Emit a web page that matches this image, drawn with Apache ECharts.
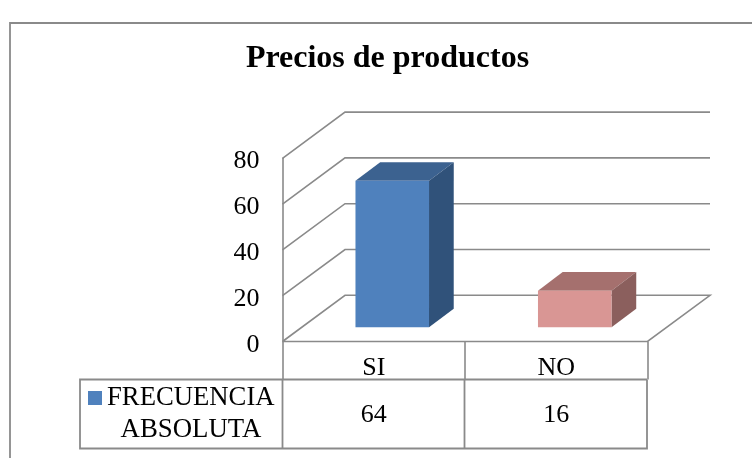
<!DOCTYPE html>
<html><head><meta charset="utf-8">
<style>html,body{margin:0;padding:0;background:#fff}#c{width:752px;height:458px}</style>
<script src="https://cdn.jsdelivr.net/npm/echarts@6/dist/echarts.min.js"></script>
</head><body><div id="c"></div>
<script>
var titleText = 'Precios de productos';
var categories = ['SI', 'NO'];
var values = [64, 16];
var seriesLines = ['FRECUENCIA', 'ABSOLUTA'];
var gridTicks = [0, 20, 40, 60, 80];
var FONT = '"Liberation Serif","Times New Roman",serif';
var LINE = '#8a8a8a', TXT = '#000';
var FRONT = ['#4F81BD', '#D99694'], TOP = ['#3C6290', '#A5706E'], SIDE = ['#30527A', '#8B5F5D'];
var WALL_DX = 62.5, WALL_DY = -46.2, BAR_OFF_DX = 18.5, BAR_OFF_DY = -14.2, BAR_DX = 24.7, BAR_DY = -18.6, BAR_W = 0.403, TABLE_Y = 415;

var chart = echarts.init(document.getElementById('c'), null, {renderer: 'canvas'});
chart.setOption({
  animation: false,
  backgroundColor: '#fff',
  title: {text: titleText, left: 382.5, top: 38, textAlign: 'center',
    textStyle: {fontFamily: FONT, fontSize: 32, fontWeight: 'bold', color: TXT}},
  grid: {left: 282.5, right: 104.5, top: 158.3, bottom: 116.5},
  xAxis: {type: 'category', data: categories,
    axisLine: {show: false},
    axisTick: {show: true, length: 38, lineStyle: {color: LINE, width: 1.6}},
    axisLabel: {margin: 14, fontFamily: FONT, fontSize: 26, color: TXT, lineHeight: 26},
    splitLine: {show: false}},
  yAxis: {type: 'value', min: 0, max: 80, interval: 20,
    axisLine: {show: true, lineStyle: {color: LINE, width: 1.6}},
    axisTick: {show: false},
    axisLabel: {margin: 23, fontFamily: FONT, fontSize: 26, color: TXT, verticalAlign: 'top', lineHeight: 6.6},
    splitLine: {show: false}},
  graphic: [
    {type: 'polyline', silent: true, shape: {points: [[10, 458], [10, 23], [752, 23]]},
      style: {fill: null, stroke: LINE, lineWidth: 1.8}},
    {type: 'polyline', silent: true, shape: {points: [[647, 379.5], [80, 379.5], [80, 448.5], [647, 448.5], [647, 379.5]]},
      style: {fill: null, stroke: LINE, lineWidth: 1.8}},
    {type: 'line', silent: true, shape: {x1: 282.5, y1: 379.5, x2: 282.5, y2: 448.5}, style: {stroke: LINE, lineWidth: 1.8}},
    {type: 'line', silent: true, shape: {x1: 464.5, y1: 379.5, x2: 464.5, y2: 448.5}, style: {stroke: LINE, lineWidth: 1.8}},
    {type: 'rect', silent: true, shape: {x: 88, y: 391, width: 14, height: 14}, style: {fill: FRONT[0]}},
    {type: 'text', silent: true, x: 107, y: 398, style: {text: seriesLines[0], font: '26.7px ' + FONT, fill: TXT, textVerticalAlign: 'middle'}},
    {type: 'text', silent: true, x: 191, y: 429.5, style: {text: seriesLines[1], font: '26.8px ' + FONT, fill: TXT, textAlign: 'center', textVerticalAlign: 'middle'}}
  ],
  series: [
    {type: 'custom', name: 'walls', silent: true, clip: false, z: 1,
      data: gridTicks.map(function (t) { return [0, t]; }),
      encode: {x: 0, y: 1},
      renderItem: function (params, api) {
        var v = api.value(1);
        var size = api.size([1, 0]);
        var p = api.coord([0, v]);
        var x0 = p[0] - size[0] / 2, x1 = x0 + 2 * size[0], y = p[1];
        var pts = [[x0, y], [x0 + WALL_DX, y + WALL_DY], [x1 + WALL_DX, y + WALL_DY]];
        if (v === 0) { pts = [[x0, y], [x0 + WALL_DX, y + WALL_DY], [x1 + WALL_DX, y + WALL_DY], [x1, y], [x0, y]]; }
        return {type: 'polyline', shape: {points: pts}, style: {fill: null, stroke: LINE, lineWidth: 1.6}};
      }},
    {type: 'custom', name: seriesLines.join(' '), silent: true, clip: false, z: 3,
      data: categories.map(function (c, i) { return [i, values[i]]; }),
      encode: {x: 0, y: 1},
      renderItem: function (params, api) {
        var i = api.value(0);
        var size = api.size([1, 0]);
        var top = api.coord([i, api.value(1)]);
        var base = api.coord([i, 0]);
        var w = size[0] * BAR_W;
        var l = top[0] - w / 2 + BAR_OFF_DX, r = l + w;
        var yt = top[1] + BAR_OFF_DY, yb = base[1] + BAR_OFF_DY;
        return {type: 'group', children: [
          {type: 'polygon', shape: {points: [[l, yt], [l + BAR_DX, yt + BAR_DY], [r + BAR_DX, yt + BAR_DY], [r, yt]]}, style: {fill: TOP[i]}},
          {type: 'polygon', shape: {points: [[r, yt], [r + BAR_DX, yt + BAR_DY], [r + BAR_DX, yb + BAR_DY], [r, yb]]}, style: {fill: SIDE[i]}},
          {type: 'rect', shape: {x: l, y: yt, width: w, height: yb - yt}, style: {fill: FRONT[i]}},
          {type: 'text', x: base[0], y: TABLE_Y, style: {text: String(api.value(1)), font: '26px ' + FONT, fill: TXT, textAlign: 'center', textVerticalAlign: 'middle'}}
        ]};
      }}
  ]
});
</script></body></html>
